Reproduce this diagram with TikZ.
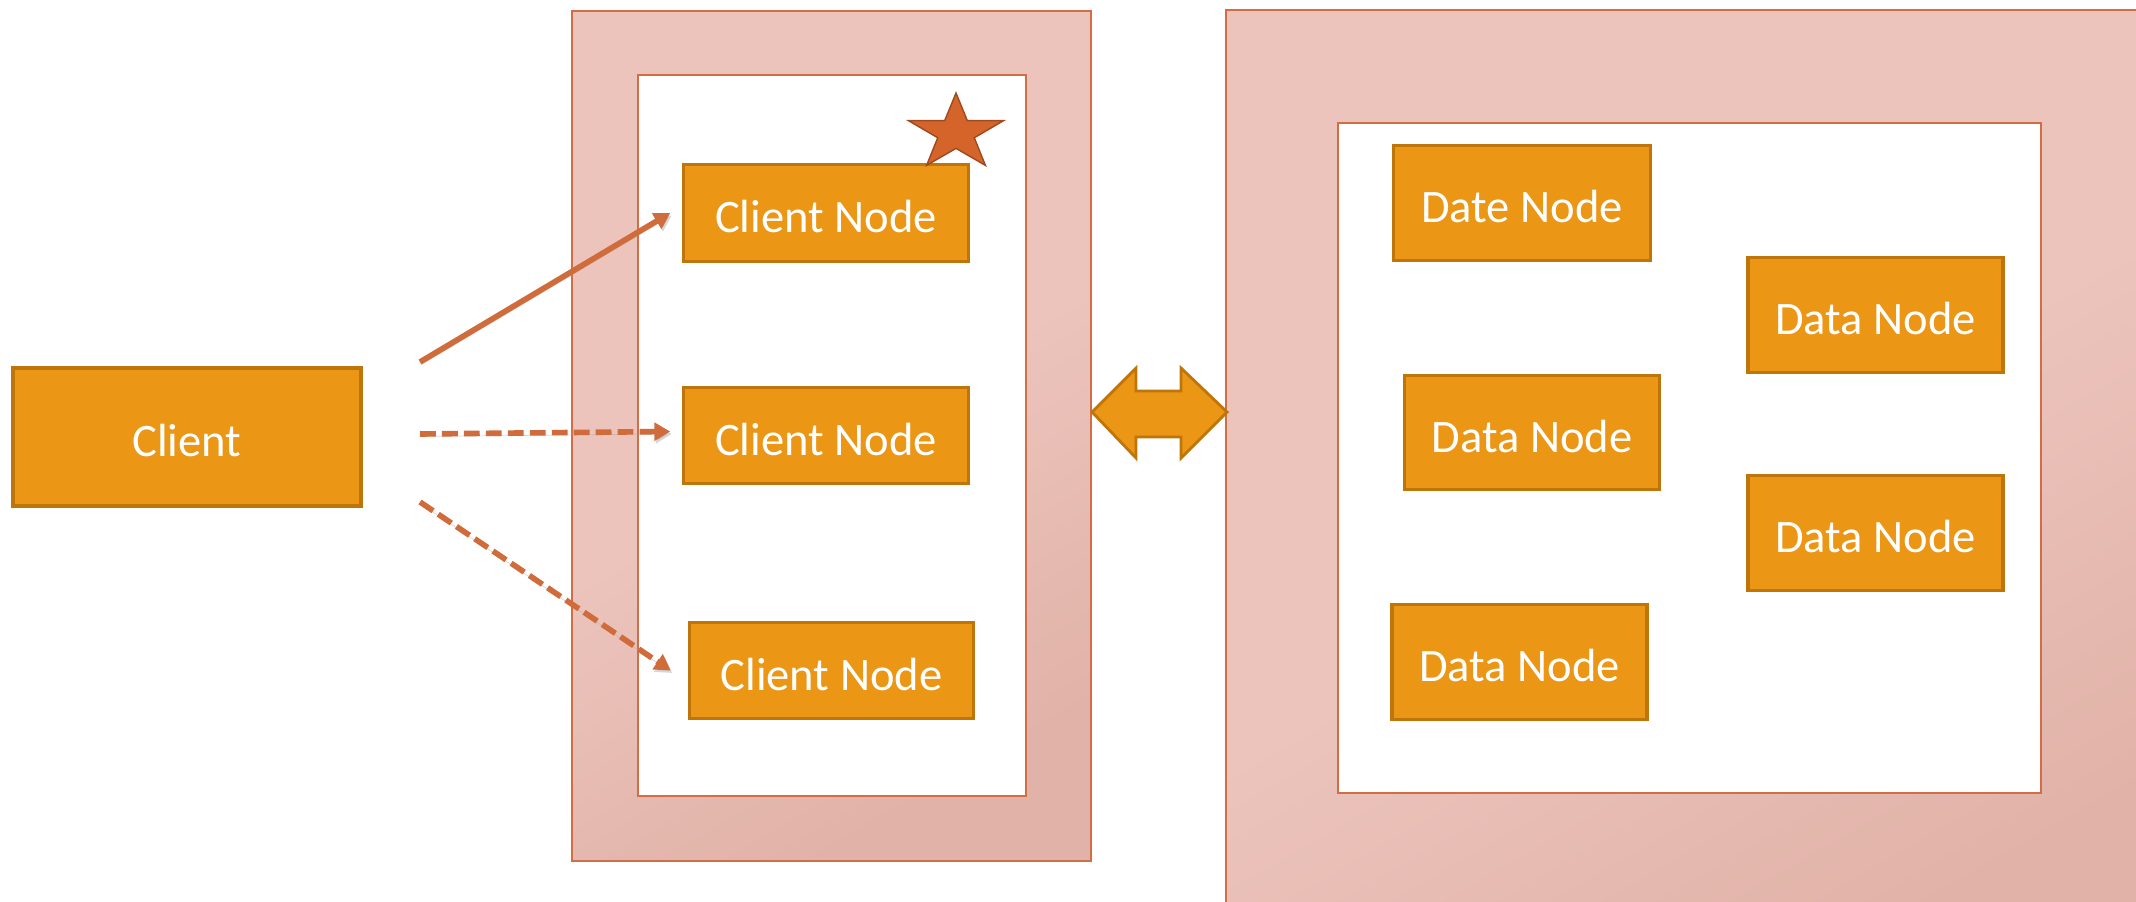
\documentclass[tikz,border=0pt]{standalone}
\usepackage{fontspec}
\setmainfont{Carlito}
\usepackage{tikz}
\usetikzlibrary{shapes.geometric, arrows.meta, positioning}
\definecolor{nodefill}{RGB}{235,150,20}
\definecolor{nodeedge}{RGB}{190,118,10}
\definecolor{panelpink}{RGB}{236,196,188}
\definecolor{paneldark}{RGB}{225,178,168}
\definecolor{paneledge}{RGB}{210,110,70}
\definecolor{linkcolor}{RGB}{208,108,60}
\definecolor{starfill}{RGB}{212,100,42}
\definecolor{staredge}{RGB}{160,72,30}
\tikzset{
    box/.style={rectangle, draw=nodeedge, line width=1.8pt, fill=nodefill, text=white, font=\fontsize{26.5}{32}\selectfont, text height=22.3pt, text depth=0pt, minimum width=5.69cm, minimum height=1.93cm, inner sep=0pt},
    datanode/.style={box, minimum width=5.1cm, minimum height=2.29cm},
    panel/.style={draw=paneledge, line width=1.6pt, top color=panelpink, bottom color=paneldark, middle color=panelpink, shading angle=30},
    innerbox/.style={draw=paneledge, line width=1.6pt, fill=white},
    link/.style={-{Triangle[length=9pt, width=10pt]}, line width=3.2pt, draw=linkcolor, preaction={draw=black!35, opacity=0.45, transform canvas={shift={(0.9pt,-1.4pt)}}}},
    dashlink/.style={link, dash pattern=on 9pt off 3.5pt}
}

\begin{document}
\begin{tikzpicture}[x=0.02cm, y=-0.02cm]
    \useasboundingbox (0,0) rectangle (2136,902);
    \clip (0,0) rectangle (2136,902);

    % Panels
    \path[panel] (572,11) rectangle (1091,861);
    \path[innerbox] (638,75) rectangle (1026,796);
    \path[panel] (1226,10) rectangle (2200,960);
    \path[innerbox] (1338,123) rectangle (2041,793);

    % Client side
    \node[box, minimum width=6.96cm, minimum height=2.76cm] (client) at (187,437) {Client};
    \node[box] (cn1) at (826,213) {Client Node};
    \node[box] (cn2) at (826,435.5) {Client Node};
    \node[box] (cn3) at (831.5,670.5) {Client Node};
    \coordinate (starpos) at (956,133);
    \node[star, star points=5, star point ratio=2.6, minimum size=2cm, inner sep=0pt, fill=starfill, draw=staredge, line width=0.8pt, yscale=0.8, transform shape] (leader) at (starpos) {};

    % Data side
    \node[datanode, minimum width=5.15cm] (dn1) at (1522,203) {Date Node};
    \node[datanode] (dn2) at (1875.5,315) {Data Node};
    \node[datanode] (dn3) at (1532,432.5) {Data Node};
    \node[datanode] (dn4) at (1875.5,533) {Data Node};
    \node[datanode] (dn5) at (1519.5,662) {Data Node};

    % Connections
    \coordinate (s1) at (420,362);
    \coordinate (s2) at (420,434);
    \coordinate (s3) at (420,502);
    \draw[link] (s1) -- ([xshift=-0.24cm]cn1.west);
    \draw[dashlink] (s2) -- ([xshift=-0.24cm,yshift=0.08cm]cn2.west);
    \draw[dashlink] (s3) -- ([xshift=-0.34cm]cn3.west);

    % Double arrow between the panels
    \filldraw[fill=nodefill, draw=nodeedge, line width=1.6pt, line join=miter]
        (1092,412) -- (1136,368) -- (1136,391) -- (1181,391) -- (1181,368) -- (1227,412)
        -- (1181,458) -- (1181,437) -- (1136,437) -- (1136,458) -- cycle;
\end{tikzpicture}
\end{document}
